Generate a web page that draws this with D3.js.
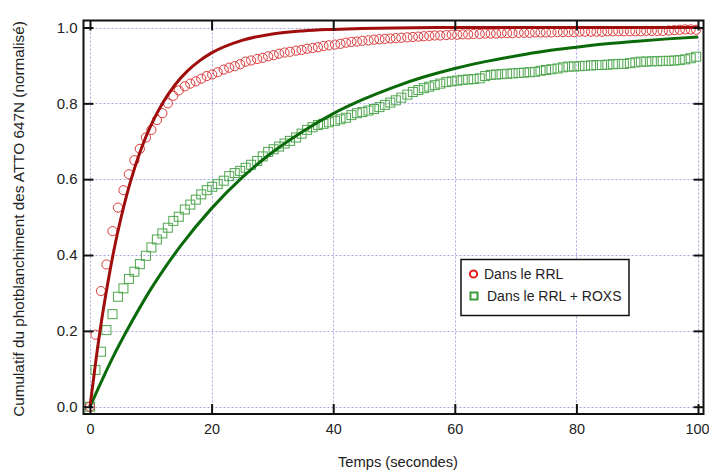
<!DOCTYPE html>
<html>
<head>
<meta charset="utf-8">
<script src="https://cdn.jsdelivr.net/npm/d3@7"></script>
<style>
  html, body { margin: 0; padding: 0; background: #fff; }
  svg { display: block; font-family: "Liberation Sans", Arial, sans-serif; }
</style>
</head>
<body>
<svg id="chart" width="709" height="470"></svg>
<script>
// ---- Data ----
const times = [0,0.9,1.8,2.7,3.7,4.6,5.5,6.4,7.3,8.2,9.2,10.1,11.0,11.9,12.8,13.7,14.6,15.6,16.5,17.4,
  18.3,19.2,20.1,21.0,22.0,22.9,23.8,24.7,25.6,26.5,27.5,28.4,29.3,30.2,31.1,32.0,32.9,33.9,34.8,35.7,
  36.6,37.5,38.4,39.3,40.3,41.2,42.1,43.0,43.9,44.8,45.8,46.7,47.6,48.5,49.4,50.3,51.2,52.2,53.1,54.0,
  54.9,55.8,56.7,57.6,58.6,59.5,60.4,61.3,62.2,63.1,64.1,65.0,65.9,66.8,67.7,68.6,69.5,70.5,71.4,72.3,
  73.2,74.1,75.0,75.9,76.9,77.8,78.7,79.6,80.5,81.4,82.4,83.3,84.2,85.1,86.0,86.9,87.8,88.8,89.7,90.6,
  91.5,92.4,93.3,94.2,95.2,96.1,97.0,97.9,98.8,99.7];

const rrl = [0.0,0.19,0.305,0.375,0.463,0.525,0.571,0.613,0.65,0.68,0.71,0.73,0.756,0.774,0.80,0.82,0.834,0.845,0.852,0.858,
  0.865,0.872,0.876,0.882,0.889,0.894,0.898,0.903,0.91,0.913,0.917,0.92,0.924,0.927,0.931,0.934,0.936,0.939,0.941,0.944,
  0.946,0.948,0.951,0.953,0.955,0.957,0.96,0.962,0.963,0.965,0.966,0.968,0.969,0.97,0.971,0.972,0.973,0.974,0.975,0.976,
  0.977,0.978,0.979,0.979,0.98,0.981,0.981,0.982,0.982,0.983,0.983,0.984,0.984,0.984,0.985,0.985,0.985,0.986,0.986,0.986,
  0.987,0.987,0.987,0.987,0.988,0.988,0.988,0.988,0.989,0.989,0.989,0.989,0.989,0.99,0.99,0.99,0.99,0.99,0.99,0.99,
  0.991,0.991,0.991,0.991,0.992,0.993,0.994,0.995,0.995,0.994];

const roxs = [0.0,0.097,0.145,0.202,0.244,0.29,0.312,0.337,0.356,0.376,0.398,0.42,0.441,0.457,0.472,0.49,0.501,0.52,0.533,0.546,
  0.56,0.571,0.58,0.587,0.596,0.608,0.616,0.622,0.63,0.638,0.648,0.66,0.672,0.679,0.686,0.694,0.701,0.71,0.72,0.73,
  0.737,0.743,0.746,0.75,0.754,0.758,0.762,0.769,0.774,0.777,0.781,0.785,0.79,0.796,0.802,0.808,0.815,0.823,0.83,0.835,
  0.84,0.844,0.848,0.852,0.856,0.858,0.86,0.862,0.863,0.864,0.866,0.872,0.875,0.876,0.877,0.878,0.879,0.88,0.881,0.882,
  0.883,0.886,0.888,0.89,0.892,0.895,0.897,0.897,0.898,0.899,0.9,0.901,0.901,0.902,0.903,0.904,0.904,0.906,0.908,0.91,
  0.91,0.911,0.911,0.912,0.912,0.913,0.914,0.916,0.919,0.923];

// Fitted curves
const fitRrlT = [0,1,2,3,4,5,6,7,8,9,10,12,14,16,18,20,25,30,35,40,50,60,70,80,90,100];
const fitRrlY = [0,0.126,0.237,0.333,0.418,0.491,0.556,0.612,0.661,0.704,0.741,0.802,0.849,0.885,0.912,0.933,0.966,0.983,0.991,0.995,0.999,1.0,1.0,1.0,1.0,1.0];
const fitRoxsT = [0,2,4,6,8,10,12,15,20,25,30,35,40,45,50,55,60,65,70,75,80,85,90,95,100];
const fitRoxsY = [0,0.071,0.138,0.199,0.256,0.310,0.359,0.426,0.523,0.604,0.671,0.726,0.773,0.811,0.843,0.870,0.892,0.910,0.925,0.938,0.948,0.957,0.964,0.970,0.975];

const xTicks = [0,20,40,60,80,100];
const yTicks = [0,0.2,0.4,0.6,0.8,1.0];
const seriesNames = ["Dans le RRL","Dans le RRL + ROXS"];

// ---- Layout ----
const svg = d3.select("#chart");
const frame = {left: 83.5, top: 20.5, right: 703.5, bottom: 414};
const x = d3.scaleLinear().domain([0,100]).range([90,698]);
const y = d3.scaleLinear().domain([0,1]).range([406.7,27.5]);

// Grid
const grid = svg.append("g").attr("stroke","#a6a6e0").attr("stroke-width",1).attr("stroke-dasharray","2,2");
grid.selectAll("line.gx").data(xTicks).join("line")
  .attr("x1",d=>Math.round(x(d))+0.5).attr("x2",d=>Math.round(x(d))+0.5)
  .attr("y1",frame.top).attr("y2",frame.bottom);
grid.selectAll("line.gy").data(yTicks).join("line")
  .attr("y1",d=>Math.round(y(d))+0.5).attr("y2",d=>Math.round(y(d))+0.5)
  .attr("x1",frame.left).attr("x2",frame.right);

// Markers
svg.append("g").selectAll("rect").data(times).join("rect")
  .attr("x",(d)=>x(d)-4.5).attr("y",(d,i)=>y(roxs[i])-4.5)
  .attr("width",9).attr("height",9)
  .attr("fill","none").attr("stroke","#4ea64e").attr("stroke-width",1);
svg.append("g").selectAll("circle").data(times).join("circle")
  .attr("cx",d=>x(d)).attr("cy",(d,i)=>y(rrl[i])).attr("r",4.6)
  .attr("fill","none").attr("stroke","#dd3a3a").attr("stroke-width",1);

// Fit lines
const line = d3.line().x(d=>x(d[0])).y(d=>y(d[1])).curve(d3.curveMonotoneX);
svg.append("path").datum(fitRoxsT.map((t,i)=>[t,fitRoxsY[i]]))
  .attr("d",line).attr("fill","none").attr("stroke","#0a6a0a").attr("stroke-width",3);
svg.append("path").datum(fitRrlT.map((t,i)=>[t,fitRrlY[i]]))
  .attr("d",line).attr("fill","none").attr("stroke","#a00d0d").attr("stroke-width",3);

// Frame
svg.append("rect").attr("x",frame.left).attr("y",frame.top)
  .attr("width",frame.right-frame.left).attr("height",frame.bottom-frame.top)
  .attr("fill","none").attr("stroke","#111").attr("stroke-width",2);

// Axes using d3 axis (ticks inside)
const axB = d3.axisBottom(x).tickValues(xTicks).tickSize(-10).tickPadding(10).tickFormat(d3.format("d"));
const gB = svg.append("g").attr("transform",`translate(0,${frame.bottom})`).call(axB);
const axT = d3.axisTop(x).tickValues(xTicks).tickSize(-10).tickFormat("");
const gT = svg.append("g").attr("transform",`translate(0,${frame.top})`).call(axT);
const axL = d3.axisLeft(y).tickValues(yTicks).tickSize(-10).tickPadding(6).tickFormat(d3.format(".1f"));
const gL = svg.append("g").attr("transform",`translate(${frame.left},0)`).call(axL);
const axR = d3.axisRight(y).tickValues(yTicks).tickSize(-10).tickFormat("");
const gR = svg.append("g").attr("transform",`translate(${frame.right},0)`).call(axR);
[gB,gT,gL,gR].forEach(g=>{
  g.select(".domain").remove();
  g.selectAll(".tick line").attr("stroke","#111").attr("stroke-width",2);
  g.selectAll("text").attr("font-size",15).attr("fill","#222")
    .attr("font-family","'Liberation Sans', Arial, sans-serif");
});
gB.selectAll("text").attr("font-size",14.4);
gB.selectAll(".tick").filter(d=>d===100).select("text").attr("text-anchor","end").attr("x",11);

// Axis titles
svg.append("text").attr("x",398).attr("y",467).attr("text-anchor","middle")
  .attr("font-size",14.7).attr("fill","#222").text("Temps (secondes)");
svg.append("text").attr("transform","translate(24,219) rotate(-90)").attr("text-anchor","middle")
  .attr("font-size",15.3).attr("fill","#222").text("Cumulatif du photblanchiment des ATTO 647N (normalisé)");

// Legend
const lg = svg.append("g");
lg.append("rect").attr("x",461).attr("y",259.5).attr("width",168).attr("height",56)
  .attr("fill","#fff").attr("stroke","#111").attr("stroke-width",1.5);
lg.append("circle").attr("cx",473.5).attr("cy",274).attr("r",3.6)
  .attr("fill","none").attr("stroke","#e01c1c").attr("stroke-width",2);
lg.append("rect").attr("x",470.5).attr("y",292.5).attr("width",7).attr("height",7)
  .attr("fill","none").attr("stroke","#3d9a3d").attr("stroke-width",2);
lg.append("text").attr("x",484).attr("y",279).attr("font-size",14).attr("fill","#222").text(seriesNames[0]);
lg.append("text").attr("x",487).attr("y",301).attr("font-size",14).attr("fill","#222").text(seriesNames[1]);
</script>
</body>
</html>
